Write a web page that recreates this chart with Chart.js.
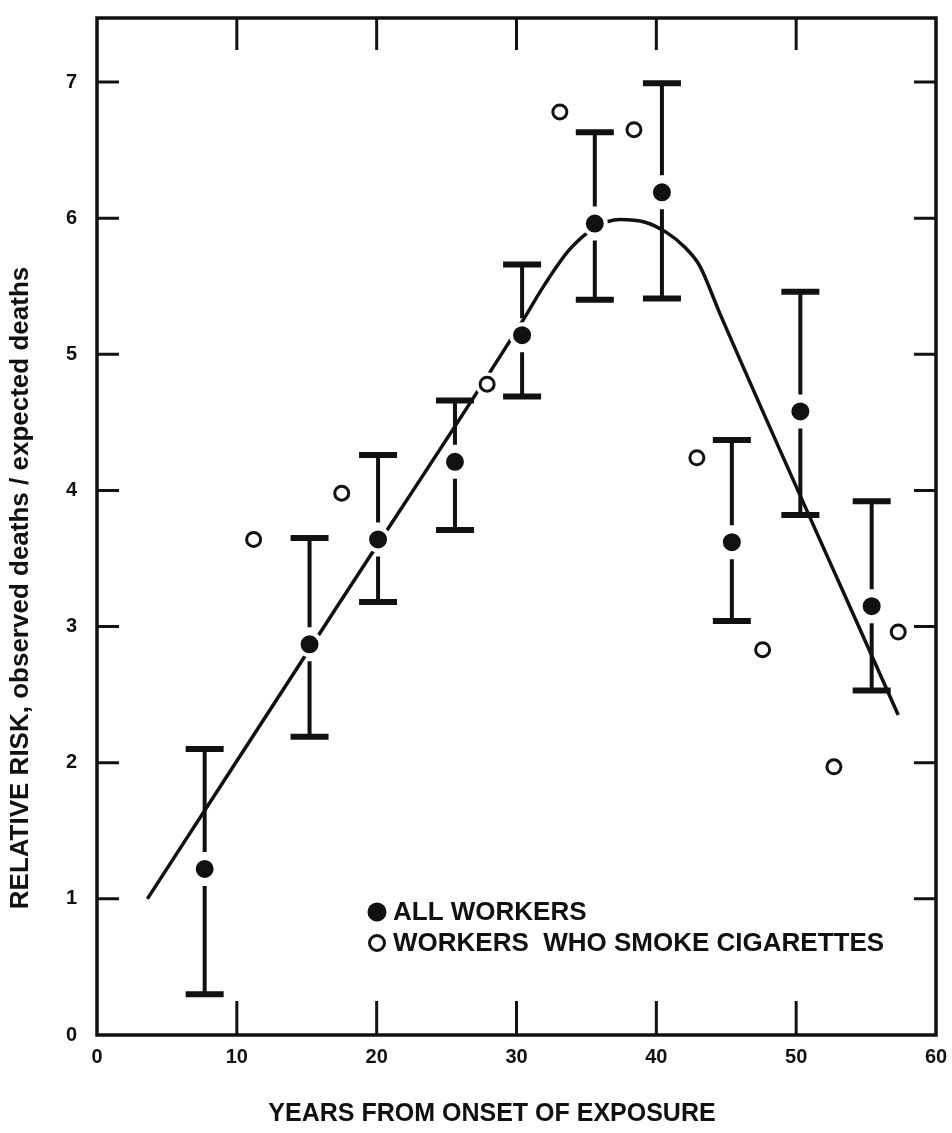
<!DOCTYPE html>
<html>
<head>
<script src="https://cdn.jsdelivr.net/npm/chart.js@4/dist/chart.umd.min.js"></script>
<style>
  body { margin: 0; background: #fff; }
  .chart-container { width: 952px; height: 1133px; position: relative; }
</style>
</head>
<body>
<div class="chart-container"><canvas id="myChart"></canvas></div>
<script>
// all workers: point + error bar
var allYears = [7.7, 15.2, 20.1, 25.6, 30.4, 35.6, 40.4, 45.4, 50.3, 55.4];
var allRisk  = [1.22, 2.87, 3.64, 4.21, 5.14, 5.96, 6.19, 3.62, 4.58, 3.15];
var allLow   = [0.30, 2.19, 3.18, 3.71, 4.69, 5.40, 5.41, 3.04, 3.82, 2.53];
var allHigh  = [2.10, 3.65, 4.26, 4.66, 5.66, 6.63, 6.99, 4.37, 5.46, 3.92];

// workers who smoke cigarettes
var smokerYears = [11.2, 17.5, 27.9, 33.1, 38.4, 42.9, 47.6, 52.7, 57.3];
var smokerRisk  = [3.64, 3.98, 4.78, 6.78, 6.65, 4.24, 2.83, 1.97, 2.96];

// fitted curve
var curveYears = [3.6, 17.0, 30.4, 32.0, 33.8, 35.6, 37.4, 39.2, 40.8, 42.0, 43.1, 44.5, 57.3];
var curveRisk  = [1.00, 3.12, 5.24, 5.51, 5.77, 5.93, 5.99, 5.97, 5.89, 5.79, 5.65, 5.31, 2.35];

var xTicks = [0, 10, 20, 30, 40, 50, 60];
var yTicks = [0, 1, 2, 3, 4, 5, 6, 7];

var xTitle = "YEARS FROM ONSET OF EXPOSURE";
var yTitle = "RELATIVE RISK, observed deaths / expected deaths";
var legendAll = "ALL WORKERS";
var legendSmoker = "WORKERS  WHO SMOKE CIGARETTES";

var FONT = '"Liberation Sans", Arial, sans-serif';
var INK = "#111";

function toPoints(xs, ys) {
  return xs.map(function (x, i) { return { x: x, y: ys[i] }; });
}

// error bars, drawn under the markers
var errorBars = {
  id: "errorBars",
  beforeDatasetsDraw: function (chart) {
    var ctx = chart.ctx;
    var x = chart.scales.x, y = chart.scales.y;
    ctx.save();
    ctx.strokeStyle = INK;
    for (var i = 0; i < allYears.length; i++) {
      var px = x.getPixelForValue(allYears[i]);
      var pm = y.getPixelForValue(allRisk[i]);
      var pt = y.getPixelForValue(allHigh[i]);
      var pb = y.getPixelForValue(allLow[i]);
      ctx.lineWidth = 4;
      ctx.beginPath();
      ctx.moveTo(px, pt); ctx.lineTo(px, pm - 17);
      ctx.moveTo(px, pm + 17); ctx.lineTo(px, pb);
      ctx.stroke();
      ctx.lineWidth = 6;
      ctx.beginPath();
      ctx.moveTo(px - 19, pt); ctx.lineTo(px + 19, pt);
      ctx.moveTo(px - 19, pb); ctx.lineTo(px + 19, pb);
      ctx.stroke();
    }
    ctx.restore();
  }
};

// frame, inward ticks, titles and legend
var decorations = {
  id: "decorations",
  afterDraw: function (chart) {
    var ctx = chart.ctx;
    var a = chart.chartArea;
    var x = chart.scales.x, y = chart.scales.y;
    ctx.save();
    ctx.strokeStyle = INK;
    ctx.fillStyle = INK;
    ctx.lineWidth = 3.5;
    ctx.strokeRect(a.left, a.top, a.right - a.left, a.bottom - a.top);

    ctx.lineWidth = 3;
    ctx.beginPath();
    xTicks.forEach(function (v) {
      if (v === xTicks[0] || v === xTicks[xTicks.length - 1]) return;
      var px = x.getPixelForValue(v);
      ctx.moveTo(px, a.bottom); ctx.lineTo(px, a.bottom - 34);
      ctx.moveTo(px, a.top); ctx.lineTo(px, a.top + 32);
    });
    yTicks.forEach(function (v) {
      if (v === 0) return;
      var py = y.getPixelForValue(v);
      ctx.moveTo(a.left, py); ctx.lineTo(a.left + 22, py);
      ctx.moveTo(a.right, py); ctx.lineTo(a.right - 22, py);
    });
    ctx.stroke();

    // axis titles
    ctx.font = "bold 25px " + FONT;
    ctx.textAlign = "center";
    ctx.textBaseline = "middle";
    ctx.fillText(xTitle, 492, 1114);

    ctx.save();
    ctx.translate(21, 588);
    ctx.rotate(-Math.PI / 2);
    ctx.font = "bold 26px " + FONT;
    ctx.fillText(yTitle, 0, 0);
    ctx.restore();

    // legend
    ctx.font = "bold 26px " + FONT;
    ctx.textAlign = "left";
    ctx.textBaseline = "middle";
    ctx.beginPath();
    ctx.arc(377, 912, 9.5, 0, Math.PI * 2);
    ctx.fill();
    ctx.fillText(legendAll, 393, 913);
    ctx.lineWidth = 3;
    ctx.beginPath();
    ctx.arc(377, 943, 7.5, 0, Math.PI * 2);
    ctx.stroke();
    ctx.fillText(legendSmoker, 393, 944);
    ctx.restore();
  }
};

var ctx = document.getElementById("myChart").getContext("2d");
var chart = new Chart(ctx, {
  type: "scatter",
  data: {
    datasets: [
      {
        label: "All workers",
        data: toPoints(allYears, allRisk),
        backgroundColor: INK,
        borderColor: "#fff",
        borderWidth: 4,
        pointRadius: 11,
        order: 1
      },
      {
        label: "Workers who smoke cigarettes",
        data: toPoints(smokerYears, smokerRisk),
        backgroundColor: "#fff",
        borderColor: INK,
        borderWidth: 3,
        pointRadius: 7,
        order: 2
      },
      {
        label: "halo",
        data: toPoints(smokerYears, smokerRisk),
        backgroundColor: "#fff",
        borderWidth: 0,
        pointRadius: 12,
        order: 3
      },
      {
        type: "line",
        label: "Fit",
        data: toPoints(curveYears, curveRisk),
        borderColor: INK,
        borderWidth: 3.5,
        pointRadius: 0,
        fill: false,
        cubicInterpolationMode: "monotone",
        order: 4
      }
    ]
  },
  options: {
    responsive: true,
    maintainAspectRatio: false,
    animation: false,
    layout: { autoPadding: false, padding: { top: 18, right: 16, left: 0, bottom: 0 } },
    plugins: {
      legend: { display: false },
      title: { display: false },
      tooltip: { enabled: false }
    },
    scales: {
      x: {
        type: "linear",
        min: 0,
        max: 60,
        afterBuildTicks: function (scale) {
          scale.ticks = xTicks.map(function (v) { return { value: v }; });
        },
        afterFit: function (scale) {
          scale.height = 98;
          scale.paddingLeft = 0; scale.paddingRight = 0;
          scale.paddingTop = 0; scale.paddingBottom = 0;
        },
        grid: { display: false, drawTicks: false },
        border: { display: false },
        ticks: {
          padding: 10,
          color: INK,
          maxRotation: 0,
          font: { family: FONT, size: 20, weight: "bold" }
        }
      },
      y: {
        type: "linear",
        min: 0,
        max: 7.47,
        afterBuildTicks: function (scale) {
          scale.ticks = yTicks.map(function (v) { return { value: v }; });
        },
        afterFit: function (scale) {
          scale.width = 97;
          scale.paddingLeft = 0; scale.paddingRight = 0;
          scale.paddingTop = 0; scale.paddingBottom = 0;
        },
        grid: { display: false, drawTicks: false },
        border: { display: false },
        ticks: {
          padding: 20,
          color: INK,
          font: { family: FONT, size: 20, weight: "bold" }
        }
      }
    }
  },
  plugins: [errorBars, decorations]
});
</script>
</body>
</html>
